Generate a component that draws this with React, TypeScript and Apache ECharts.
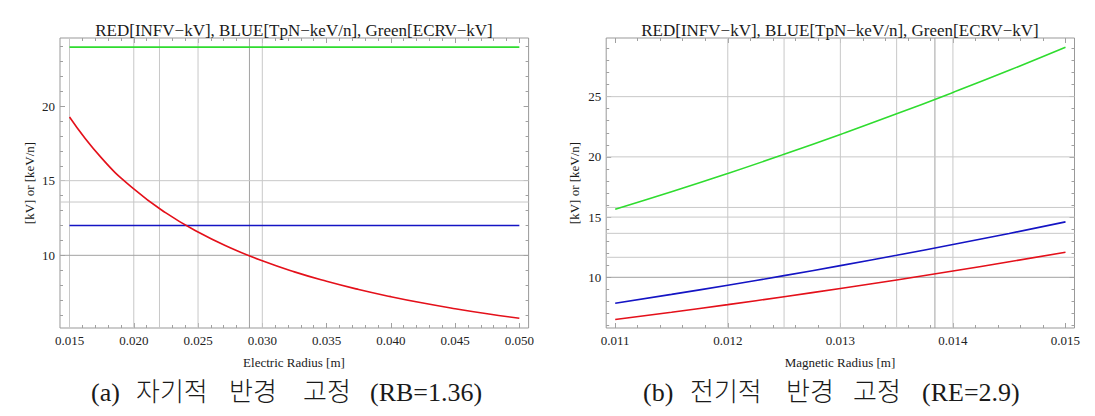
import React, { useEffect, useRef } from 'react';
import * as echarts from 'echarts';

// ---- data: (a) fixed magnetic radius, x = electric radius [m]
const radiusE = [0.015, 0.0175, 0.02, 0.0225, 0.025, 0.0275, 0.03, 0.0325, 0.035, 0.0375, 0.04, 0.0425, 0.045, 0.0475, 0.05];
const infvE = [19.27, 16.51, 14.45, 12.84, 11.56, 10.51, 9.63, 8.89, 8.26, 7.71, 7.23, 6.8, 6.42, 6.08, 5.78];
const tpnE = [12, 12, 12, 12, 12, 12, 12, 12, 12, 12, 12, 12, 12, 12, 12];
const ecrvE = [23.95, 23.95, 23.95, 23.95, 23.95, 23.95, 23.95, 23.95, 23.95, 23.95, 23.95, 23.95, 23.95, 23.95, 23.95];

// ---- data: (b) fixed electric radius, x = magnetic radius [m]
const radiusB = [0.011, 0.0115, 0.012, 0.0125, 0.013, 0.0135, 0.014, 0.0145, 0.015];
const infvB = [6.5, 7.1, 7.73, 8.39, 9.07, 9.78, 10.52, 11.29, 12.08];
const tpnB = [7.85, 8.58, 9.34, 10.14, 10.97, 11.83, 12.72, 13.64, 14.6];
const ecrvB = [15.65, 17.1, 18.62, 20.21, 21.86, 23.57, 25.35, 27.19, 29.1];

// ---- tick labels
const xTicksE = [0.015, 0.02, 0.025, 0.03, 0.035, 0.04, 0.045, 0.05];
const yTicksE = [10, 15, 20];
const xTicksB = [0.011, 0.012, 0.013, 0.014, 0.015];
const yTicksB = [10, 15, 20, 25];

// ---- grid lines
const xGridE = [0.015, 0.02, 0.022, 0.025, 0.029, 0.03];
const xGridEDark = [0.029];
const yGridE = [15, 13.57, 10];
const yGridEDark = [10];
const xGridB = [0.012, 0.0125, 0.013, 0.0135, 0.01384, 0.014];
const xGridBDark = [0.01384];
const yGridB = [25, 20, 15.8, 15, 13.65, 11.66, 10];
const yGridBDark = [10];

const title = 'RED[INFV\u2212kV], BLUE[TpN\u2212keV/n], Green[ECRV\u2212kV]';
const yName = '[kV] or [keV/n]';
const xNameE = 'Electric Radius [m]';
const xNameB = 'Magnetic Radius [m]';
const capA = ['(a)', '자기적', '반경', '고정', '(RB=1.36)'];
const capB = ['(b)', '전기적', '반경', '고정', '(RE=2.9)'];

const SERIF = 'Liberation Serif';
const CAPFONT = "'Liberation Serif', 'Noto Sans CJK KR', serif";
const TICK = '#a0a0a0';
const GRID_LIGHT = '#c8c8c8';
const GRID_DARK = '#a2a2a2';

function steps(a: number, b: number, s: number, skip: number[]) {
  const out: number[] = [];
  const n = Math.round((b - a) / s);
  for (let i = 0; i <= n; i++) {
    const v = +(a + i * s).toFixed(6);
    if (!skip.some((k) => Math.abs(k - v) < s / 10)) out.push(v);
  }
  return out;
}

function xAxes(gi: number, min: number, max: number, majors: number[], minors: number[], digits: number) {
  const base = (pos: string, vals: number[], len: number, labels: boolean) => ({
    type: 'value',
    gridIndex: gi,
    min,
    max,
    position: pos,
    axisLine: { show: false },
    splitLine: { show: false },
    axisTick: { show: true, inside: true, length: len, customValues: vals, lineStyle: { color: TICK, width: 1 } },
    axisLabel: {
      show: labels,
      customValues: majors,
      formatter: (v: number) => v.toFixed(digits),
      margin: 6,
      fontFamily: SERIF,
      fontSize: 13,
      color: '#222',
    },
  });
  return [
    base('bottom', majors, 5, true),
    base('bottom', minors, 3, false),
    base('top', majors, 5, false),
    base('top', minors, 3, false),
  ];
}

function yAxes(gi: number, min: number, max: number, majors: number[], minors: number[]) {
  const base = (pos: string, vals: number[], len: number, labels: boolean) => ({
    type: 'value',
    gridIndex: gi,
    min,
    max,
    position: pos,
    axisLine: { show: false },
    splitLine: { show: false },
    axisTick: { show: true, inside: true, length: len, customValues: vals, lineStyle: { color: TICK, width: 1 } },
    axisLabel: {
      show: labels,
      customValues: majors,
      formatter: (v: number) => String(v),
      margin: 5,
      fontFamily: SERIF,
      fontSize: 13,
      color: '#222',
    },
  });
  return [
    base('left', majors, 5, true),
    base('left', minors, 3, false),
    base('right', majors, 5, false),
    base('right', minors, 3, false),
  ];
}

function gridLines(ai: number, vals: number[], dark: number[], vertical: boolean, ref: number) {
  return {
    type: 'custom',
    xAxisIndex: ai,
    yAxisIndex: ai,
    silent: true,
    z: 1,
    clip: false,
    data: vals.map((v) => (vertical ? [v, ref, dark.includes(v) ? 1 : 0] : [ref, v, dark.includes(v) ? 1 : 0])),
    renderItem: (params: any, api: any) => {
      const cs = params.coordSys;
      const p = api.coord([api.value(0), api.value(1)]);
      const shape = vertical
        ? { x1: p[0], y1: cs.y, x2: p[0], y2: cs.y + cs.height }
        : { x1: cs.x, y1: p[1], x2: cs.x + cs.width, y2: p[1] };
      return {
        type: 'line',
        shape,
        style: { stroke: api.value(2) ? GRID_DARK : GRID_LIGHT, lineWidth: 1 },
      };
    },
  };
}

function curve(ai: number, xs: number[], ys: number[], color: string) {
  return {
    type: 'line',
    xAxisIndex: ai,
    yAxisIndex: ai,
    data: xs.map((x, i) => [x, ys[i]]),
    smooth: true,
    showSymbol: false,
    symbol: 'none',
    lineStyle: { color, width: 1.6 },
    z: 3,
  };
}

function txt(text: string, x: number, y: number, size: number, align = 'center', rotation = 0, font = SERIF, weight = 'normal') {
  return {
    type: 'text',
    x,
    y,
    rotation,
    silent: true,
    style: { text, fill: '#1a1a1a', font: `${weight} ${size}px ${font}`, align, verticalAlign: 'middle' },
  };
}

const capAX = [91, 136, 229, 303, 370];
const capBX = [643, 690, 786, 853, 922];

export default function App() {
  const ref = useRef<HTMLDivElement>(null);
  useEffect(() => {
    document.body.style.margin = '0';
    const chart = echarts.init(ref.current!, null, { renderer: 'svg' });
    const option: any = {
      animation: false,
      backgroundColor: '#ffffff',
      grid: [
        { left: 60, top: 38, width: 468.6, height: 290, show: true, borderColor: '#999', borderWidth: 1, backgroundColor: 'transparent' },
        { left: 606.2, top: 38, width: 468.3, height: 290, show: true, borderColor: '#999', borderWidth: 1, backgroundColor: 'transparent' },
      ],
      xAxis: [
        ...xAxes(0, 0.01426, 0.05072, xTicksE, steps(0.015, 0.05, 0.001, xTicksE), 3),
        ...xAxes(1, 0.01092, 0.01508, xTicksB, steps(0.011, 0.015, 0.0002, xTicksB), 3),
      ],
      yAxis: [
        ...yAxes(0, 5.13, 24.56, yTicksE, steps(6, 24, 1, yTicksE)),
        ...yAxes(1, 5.79, 29.87, yTicksB, steps(6, 29, 1, yTicksB)),
      ],
      series: [
        gridLines(0, xGridE, xGridEDark, true, 10),
        gridLines(0, yGridE, yGridEDark, false, 0.03),
        gridLines(4, xGridB, xGridBDark, true, 10),
        gridLines(4, yGridB, yGridBDark, false, 0.013),
        curve(0, radiusE, ecrvE, '#2fdc2f'),
        curve(0, radiusE, tpnE, '#1414c4'),
        curve(0, radiusE, infvE, '#e4101a'),
        curve(4, radiusB, ecrvB, '#2fdc2f'),
        curve(4, radiusB, tpnB, '#1414c4'),
        curve(4, radiusB, infvB, '#e4101a'),
      ],
      graphic: [
        txt(title, 294, 30, 17),
        txt(title, 840, 30, 17),
        txt(yName, 29, 183, 13, 'center', Math.PI / 2),
        txt(yName, 574, 183, 13, 'center', Math.PI / 2),
        txt(xNameE, 294, 362, 13),
        txt(xNameB, 840, 362, 13),
        ...capA.map((w, i) => txt(w, capAX[i], 392, 26, 'left', 0, CAPFONT, '300')),
        ...capB.map((w, i) => txt(w, capBX[i], 392, 26, 'left', 0, CAPFONT, '300')),
      ],
    };
    chart.setOption(option);
    return () => chart.dispose();
  }, []);
  return <div ref={ref} style={{ width: 1095, height: 416 }} />;
}
